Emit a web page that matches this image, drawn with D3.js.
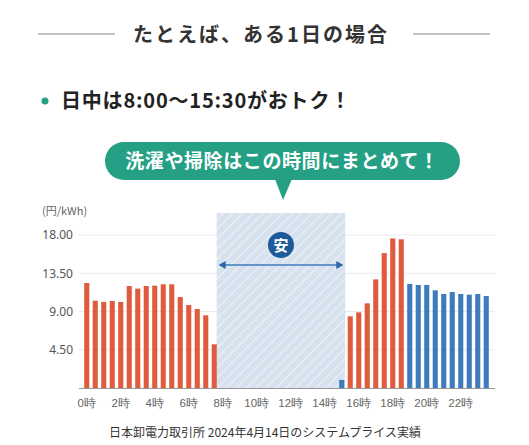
<!DOCTYPE html>
<html>
<head>
<meta charset="utf-8">
<script src="https://cdn.jsdelivr.net/npm/d3@7"></script>
<style>
  body { margin: 0; background: #fff; }
  svg { display: block; font-family: "Noto Sans CJK JP", "Noto Sans", sans-serif; }
</style>
</head>
<body>
<div id="chart"></div>
<script>
// half-hour slots 0:00 .. 23:30
var slots = d3.range(48);
var prices = [12.35, 10.27, 10.12, 10.24, 10.12, 12.0, 11.69, 12.0,
              12.04, 12.2, 12.2, 10.7, 9.76, 9.29, 8.55, 5.14,
              0, 0, 0, 0, 0, 0, 0, 0,
              0, 0, 0, 0, 0, 0, 0.95, 8.43,
              8.9, 9.96, 12.78, 15.88, 17.6, 17.49, 12.24, 12.12,
              12.12, 11.49, 11.06, 11.29, 11.06, 10.98, 11.06, 10.82];
var barGroup = slots.map(function(i){ return (i >= 16 && i <= 30) || i >= 38 ? "cheap" : "peak"; });
var yTicks = [4.5, 9, 13.5, 18];
var xTickSlots = [0, 4, 8, 12, 16, 20, 24, 28, 32, 36, 40, 44];
var cheapRange = [16, 30];

var width = 529, height = 445;
var colors = { peak: "#df5b3d", cheap: "#3e7bbd" };

var svg = d3.select("#chart").append("svg")
  .attr("width", width).attr("height", height);

// ---- heading
svg.append("line").attr("x1", 38).attr("x2", 115).attr("y1", 34).attr("y2", 34)
  .attr("stroke", "#888").attr("stroke-width", 1);
svg.append("line").attr("x1", 413).attr("x2", 490).attr("y1", 34).attr("y2", 34)
  .attr("stroke", "#888").attr("stroke-width", 1);
svg.append("text").attr("x", 261).attr("y", 42).attr("text-anchor", "middle")
  .attr("font-size", 20).attr("font-weight", "bold").attr("fill", "#333")
  .attr("letter-spacing", 2)
  .text("たとえば、ある1日の場合");

svg.append("circle").attr("cx", 45).attr("cy", 101).attr("r", 3.5).attr("fill", "#26a085");
svg.append("text").attr("x", 61).attr("y", 108)
  .attr("font-size", 20).attr("font-weight", "bold").attr("fill", "#222")
  .attr("letter-spacing", 0.8)
  .text("日中は8:00～15:30がおトク！");

// ---- scales
var x = d3.scaleBand().domain(slots).range([82.5, 490.5]).paddingInner(0.4).paddingOuter(0.2);
var y = d3.scaleLinear().domain([0, 18]).range([388, 235]);

// grid
svg.append("g").selectAll("line").data(yTicks).enter().append("line")
  .attr("x1", 79).attr("x2", 495)
  .attr("y1", function(d){ return y(d); }).attr("y2", function(d){ return y(d); })
  .attr("stroke", "#ececec").attr("stroke-width", 1);

// cheap zone with stripes
var defs = svg.append("defs");
var pat = defs.append("pattern").attr("id", "stripe")
  .attr("patternUnits", "userSpaceOnUse").attr("width", 7).attr("height", 7)
  .attr("patternTransform", "rotate(45)");
pat.append("rect").attr("width", 7).attr("height", 7).attr("fill", "#d7e2ee");
pat.append("line").attr("x1", 0).attr("x2", 0).attr("y1", 0).attr("y2", 7)
  .attr("stroke", "#edf2f8").attr("stroke-width", 2.2);

var zoneX0 = x(cheapRange[0]) - x.bandwidth() * 0.5 - 1;
var zoneX1 = x(cheapRange[1]) + x.bandwidth() + 1;
svg.append("rect").attr("x", zoneX0).attr("y", 213)
  .attr("width", zoneX1 - zoneX0).attr("height", 388 - 213)
  .attr("fill", "url(#stripe)");

// bars
svg.append("g").selectAll("rect").data(slots).enter().append("rect")
  .attr("x", function(i){ return x(i); })
  .attr("width", x.bandwidth())
  .attr("y", function(i){ return y(prices[i]); })
  .attr("height", function(i){ return y(0) - y(prices[i]); })
  .attr("fill", function(i){ return colors[barGroup[i]]; });

// axes
var yAxis = svg.append("g").attr("transform", "translate(73,0)")
  .call(d3.axisLeft(y).tickValues(yTicks).tickFormat(d3.format(".2f")).tickSize(0).tickPadding(0));
yAxis.select(".domain").remove();
yAxis.selectAll("text").attr("font-size", 12).attr("fill", "#555").attr("font-family", "Noto Sans, sans-serif");

svg.append("text").attr("x", 42).attr("y", 215).attr("font-size", 11).attr("fill", "#666")
  .text("(円/kWh)");

var xAxis = svg.append("g").attr("transform", "translate(0,388)")
  .call(d3.axisBottom(x).tickValues(xTickSlots).tickFormat(function(i){ return (i / 2) + "時"; })
    .tickSize(0).tickPadding(11));
xAxis.select(".domain").remove();
xAxis.selectAll("text").attr("font-size", 11.5).attr("fill", "#666");
svg.append("line").attr("x1", 79).attr("x2", 495).attr("y1", 388.5).attr("y2", 388.5)
  .attr("stroke", "#999").attr("stroke-width", 1);

// arrow + 安 mark
var ax0 = zoneX0 + 2, ax1 = zoneX1 - 2, ay = 265;
svg.append("line").attr("x1", ax0 + 6).attr("x2", ax1 - 6).attr("y1", ay).attr("y2", ay)
  .attr("stroke", "#3e7bbd").attr("stroke-width", 1.5);
svg.append("path").attr("d", "M" + ax0 + "," + ay + "l7,-4v8z").attr("fill", "#2c64a6");
svg.append("path").attr("d", "M" + ax1 + "," + ay + "l-7,-4v8z").attr("fill", "#2c64a6");
var cx = (zoneX0 + zoneX1) / 2;
svg.append("circle").attr("cx", cx).attr("cy", 245).attr("r", 13).attr("fill", "#1d5a9a");
svg.append("text").attr("x", cx).attr("y", 250.5).attr("text-anchor", "middle")
  .attr("font-size", 15).attr("font-weight", "bold").attr("fill", "#fff").text("安");

// speech bubble
svg.append("rect").attr("x", 105).attr("y", 142).attr("width", 355).attr("height", 38)
  .attr("rx", 19).attr("fill", "#26a085");
svg.append("path").attr("d", "M275,179L292,179L283,200Z").attr("fill", "#26a085");
svg.append("text").attr("x", 282).attr("y", 168).attr("text-anchor", "middle")
  .attr("font-size", 19).attr("font-weight", "bold").attr("fill", "#fff").attr("letter-spacing", 0.6)
  .text("洗濯や掃除はこの時間にまとめて！");

// source note
svg.append("text").attr("x", 265).attr("y", 437).attr("text-anchor", "middle")
  .attr("font-size", 12).attr("fill", "#333")
  .text("日本卸電力取引所 2024年4月14日のシステムプライス実績");
</script>
</body>
</html>
